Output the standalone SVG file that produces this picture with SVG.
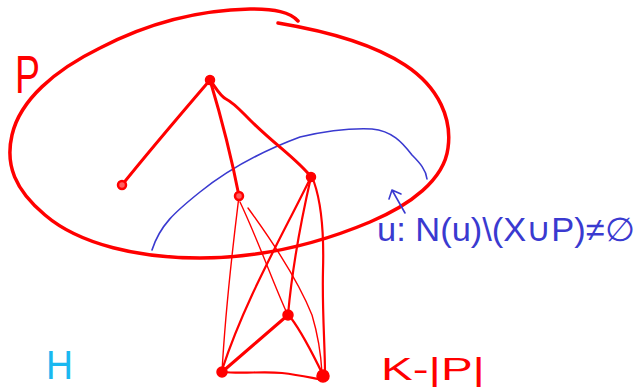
<svg xmlns="http://www.w3.org/2000/svg" width="642" height="388" viewBox="0 0 642 388">
<style>
.red{fill:none;stroke:#ff0000;stroke-linecap:round;stroke-linejoin:round}
.thick{stroke-width:3}
.mid{stroke-width:2.2}
.thin{stroke-width:1.4}
.blue{fill:none;stroke:#3a3ad0;stroke-width:1.6;stroke-linecap:round;stroke-linejoin:round}
.dot{fill:#ff0000;stroke:#ff0000;stroke-width:1.5}
.ring{fill:#ff6060;stroke:#ff0000;stroke-width:2.5}
.lbl{font-family:"Liberation Sans",Arial,sans-serif}
</style>
<rect width="642" height="388" fill="#ffffff"/>
<g id="set-P">
<path class="red" stroke-width="3.5" d="M 278,23 C 320,30 370,42 405,65 C 440,88 452,120 448,148 C 444,180 410,205 370,222 C 320,243 260,258 200,258 C 140,258 80,245 45,215 C 15,190 5,165 12,135 C 20,100 55,70 100,48 C 150,22 200,10 250,9 C 275,9 290,12 298,21"/>
</g>
<g id="annotation">
<path class="blue" d="M 152,250 C 160,225 175,212 200,192 C 230,168 265,150 300,137 C 330,130 350,128 372,129 C 392,131 402,142 412,155 C 420,163 426,170 427,179"/>
<path class="blue" d="M 405,213 L 392,190 M 389,199 L 392,190 L 401,194"/>
</g>
<g id="connectors">
<path class="red thick" d="M 210,80 C 180,115 150,150 122,185"/>
<path class="red thick" d="M 210,80 C 222,120 232,160 239,196"/>
<path class="red thick" d="M 210,80 C 216,88 220,96 226,99 C 234,103 240,110 250,120 C 275,145 298,160 311,177"/>
<path class="red thin" d="M 239,196 C 233,245 226,300 222,372"/>
<path class="red thin" d="M 240,202 C 258,240 272,280 286,311"/>
<path class="red thin" d="M 248,208 C 275,245 300,285 312,315 C 318,335 321,355 322,373"/>
<path class="red mid" d="M 311,177 C 280,240 245,300 222,370"/>
<path class="red mid" d="M 311,177 C 300,225 292,270 288,315"/>
<path class="red mid" d="M 314,182 C 322,205 324,235 323,270 C 322,310 325,345 325,374"/>
<path class="red thick" d="M 288,315 C 265,335 245,352 222,372"/>
<path class="red mid" d="M 291,318 C 300,330 310,348 323,375"/>
<path class="red mid" d="M 222,372 C 245,374 262,371 282,373 C 300,375 312,378 324,380"/>
</g>
<g id="node-top"><circle class="dot" cx="210" cy="80" r="4.5"/></g>
<g id="node-left"><circle class="ring" cx="122" cy="185" r="4"/></g>
<g id="node-mid"><circle class="ring" cx="239" cy="196" r="4"/></g>
<g id="node-right"><circle class="dot" cx="311" cy="177" r="4.5"/></g>
<g id="node-inner"><circle class="dot" cx="288" cy="315" r="5"/></g>
<g id="node-bottom-left"><circle class="dot" cx="222" cy="372" r="5"/></g>
<g id="node-bottom-right"><circle class="dot" cx="323" cy="376" r="6"/></g>
<g id="labels">
<text class="lbl" x="15" y="93" font-size="54" fill="#ff0000" textLength="25" lengthAdjust="spacingAndGlyphs">P</text>
<text class="lbl" x="46" y="379" font-size="41" fill="#1ab8f0" textLength="27" lengthAdjust="spacingAndGlyphs">H</text>
<text class="lbl" x="381" y="380" font-size="31" fill="#ff0000" textLength="104" lengthAdjust="spacingAndGlyphs">K-|P|</text>
<text class="lbl" x="377" y="241" font-size="33" fill="#3a3ad0" textLength="258" lengthAdjust="spacingAndGlyphs">u: N(u)\(X∪P)≠∅</text>
</g>
</svg>
